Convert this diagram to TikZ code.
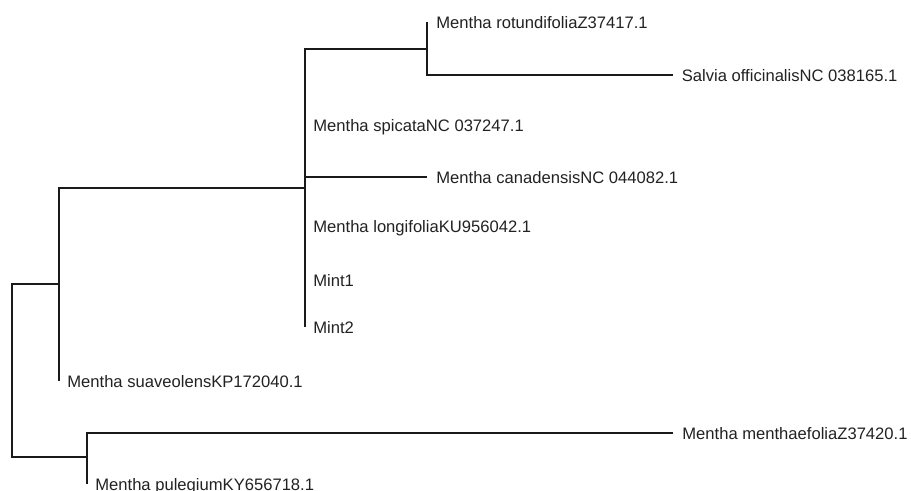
\documentclass[tikz,border=0pt]{standalone}
\usepackage{fontspec}
\setmainfont{Liberation Sans}
\usetikzlibrary{positioning}
\definecolor{treeline}{HTML}{1A1A1A}
\definecolor{treetext}{HTML}{222222}

\begin{document}
\begin{tikzpicture}[x=0.02cm, y=-0.02cm,
  branch/.style={draw=treeline, line width=1.1pt},
  leaf/.style={inner sep=0pt, text height=0.72em, text depth=0pt,
               font=\fontsize{9.45}{11}\selectfont, text=treetext}]
  \useasboundingbox (0,0) rectangle (911,490);
  % Internal nodes
  \coordinate (root) at (12,370);
  \coordinate (cladeA) at (59,284);
  \coordinate (cladeB) at (305,188);
  \coordinate (cladeC) at (427,49);
  \coordinate (cladeD) at (87,457);
  % Leaf tips
  \coordinate (tRot) at (427,22);
  \coordinate (tSal) at (673,75);
  \coordinate (tSpi) at (305,125);
  \coordinate (tCan) at (427,177);
  \coordinate (tLon) at (305,226);
  \coordinate (tMi1) at (305,280);
  \coordinate (tMi2) at (305,327);
  \coordinate (tSua) at (59,381);
  \coordinate (tMen) at (673,433);
  \coordinate (tPul) at (87,484);
  % Labels
  \node[leaf, right=0.18cm of tRot] (rot) {Mentha rotundifoliaZ37417.1};
  \node[leaf, right=0.17cm of tSal] (sal) {Salvia officinalisNC 038165.1};
  \node[leaf, right=0.16cm of tSpi] (spi) {Mentha spicataNC 037247.1};
  \node[leaf, right=0.18cm of tCan] (can) {Mentha canadensisNC 044082.1};
  \node[leaf, right=0.16cm of tLon] (lon) {Mentha longifoliaKU956042.1};
  \node[leaf, right=0.16cm of tMi1] (mi1) {Mint1};
  \node[leaf, right=0.16cm of tMi2] (mi2) {Mint2};
  \node[leaf, right=0.16cm of tSua] (sua) {Mentha suaveolensKP172040.1};
  \node[leaf, right=0.18cm of tMen] (men) {Mentha menthaefoliaZ37420.1};
  \node[leaf, right=0.16cm of tPul] (pul) {Mentha pulegiumKY656718.1};
  % Branches
  \draw[branch] (root) |- (cladeA);
  \draw[branch] (root) |- (cladeD);
  \draw[branch] (cladeA) |- (cladeB);
  \draw[branch] (cladeA) -- (tSua);
  \draw[branch] (cladeB) |- (cladeC);
  \draw[branch] (cladeB) -- (tMi2);
  \draw[branch] (cladeB) |- (tCan);
  \draw[branch] (cladeC) -- (tRot);
  \draw[branch] (cladeC) |- (tSal);
  \draw[branch] (cladeD) |- (tMen);
  \draw[branch] (cladeD) -- (tPul);
\end{tikzpicture}
\end{document}
